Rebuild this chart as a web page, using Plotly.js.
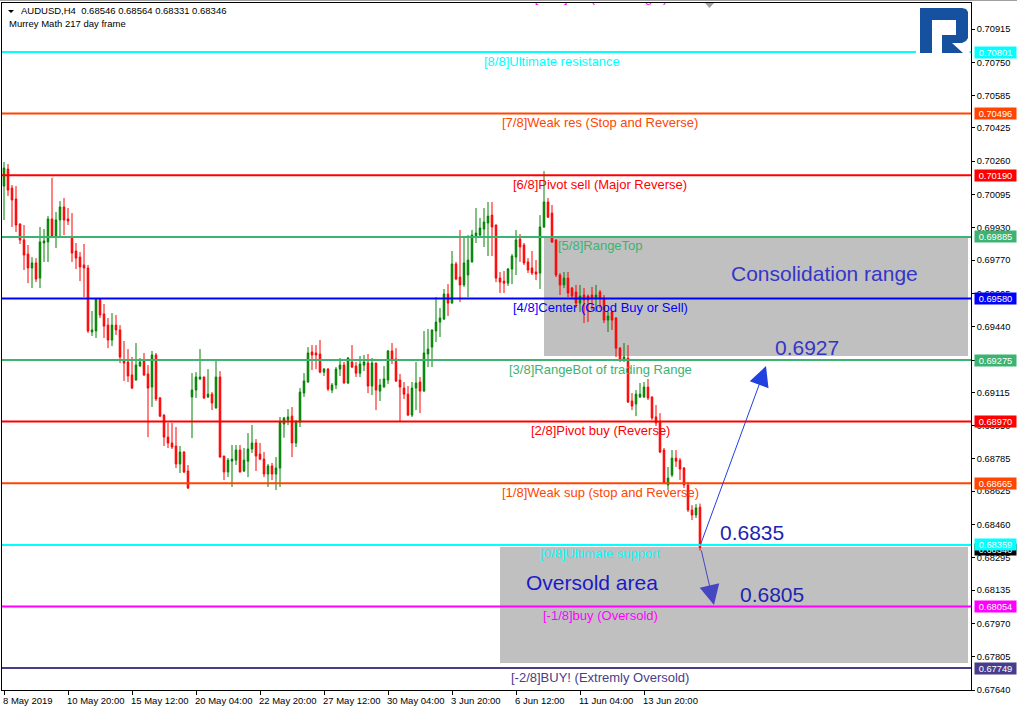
<!DOCTYPE html>
<html>
<head>
<meta charset="utf-8">
<script src="https://cdn.plot.ly/plotly-3.0.1.min.js"></script>
<style>
  html, body { margin: 0; padding: 0; background: #ffffff; }
  #chart { width: 1017px; height: 711px; }
</style>
</head>
<body>
<div id="chart"></div>
<script>
// ---------------- DATA (AUDUSD, H4) ----------------
const symbolHeader = "AUDUSD,H4  0.68546 0.68564 0.68331 0.68346";
const indicatorName = "Murrey Math 217 day frame";

const open = [
0.70137,0.70221,0.70127,0.70073,0.69949,0.69870,0.69800,0.69731,0.69756,0.69681,
0.69855,0.69860,0.69974,0.69889,0.69969,0.70033,0.69974,0.69879,0.69815,0.69785,
0.69746,0.69731,0.69414,0.69419,0.69577,0.69503,0.69448,0.69374,0.69448,0.69424,
0.69270,0.69265,0.69201,0.69176,0.69245,0.69270,0.69206,0.69141,0.69300,0.69087,
0.69002,0.68893,0.68864,0.68849,0.68760,0.68819,0.68725,0.69092,0.69126,0.69181,
0.69191,0.69092,0.69106,0.69037,0.69191,0.68799,0.68720,0.68774,0.68779,0.68829,
0.68725,0.68774,0.68834,0.68864,0.68809,0.68784,0.68710,0.68750,0.68710,0.68740,
0.68958,0.68978,0.68997,0.68864,0.68968,0.69111,0.69166,0.69315,0.69310,0.69305,
0.69215,0.69230,0.69126,0.69151,0.69230,0.69250,0.69161,0.69265,0.69245,0.69210,
0.69250,0.69260,0.69146,0.69260,0.69121,0.69141,0.69176,0.69320,0.69280,0.69176,
0.69136,0.69106,0.69002,0.69136,0.69166,0.69121,0.69305,0.69339,0.69419,0.69463,
0.69478,0.69602,0.69557,0.69751,0.69686,0.69647,0.69696,0.69761,0.69884,0.69894,
0.69924,0.69954,0.69993,0.69944,0.69681,0.69666,0.69656,0.69726,0.69785,0.69874,
0.69845,0.69761,0.69731,0.69711,0.69706,0.69934,0.70058,0.70003,0.69870,0.69696,
0.69647,0.69681,0.69632,0.69612,0.69557,0.69597,0.69592,0.69597,0.69582,0.69612,
0.69582,0.69473,0.69513,0.69483,0.69334,0.69275,0.69285,0.69072,0.69057,0.69092,
0.69092,0.69141,0.69092,0.68993,0.68968,0.68829,0.68656,0.68705,0.68789,0.68779,
0.68740,0.68656,0.68532,0.68507,0.68546];

const high = [
0.70256,0.70246,0.70142,0.70137,0.69952,0.69944,0.69845,0.69785,0.69780,0.69934,
0.69924,0.69988,0.70177,0.70008,0.70063,0.70078,0.70028,0.70003,0.69855,0.69810,
0.69850,0.69746,0.69518,0.69580,0.69580,0.69552,0.69483,0.69508,0.69498,0.69448,
0.69369,0.69329,0.69290,0.69359,0.69285,0.69310,0.69250,0.69320,0.69310,0.69092,
0.69007,0.68963,0.68963,0.68943,0.68849,0.68824,0.68755,0.69210,0.69215,0.69329,
0.69193,0.69230,0.69116,0.69280,0.69220,0.68801,0.68789,0.68854,0.68854,0.68854,
0.68839,0.68913,0.68953,0.68883,0.68864,0.68819,0.68760,0.68765,0.68794,0.68993,
0.68993,0.69032,0.69042,0.68978,0.69136,0.69210,0.69339,0.69349,0.69349,0.69374,
0.69235,0.69235,0.69161,0.69240,0.69285,0.69265,0.69290,0.69349,0.69265,0.69295,
0.69300,0.69305,0.69285,0.69262,0.69181,0.69245,0.69325,0.69359,0.69334,0.69206,
0.69166,0.69146,0.69166,0.69265,0.69191,0.69419,0.69429,0.69426,0.69587,0.69533,
0.69627,0.69651,0.69815,0.69761,0.69919,0.69884,0.69894,0.69919,0.70028,0.69979,
0.70028,0.70058,0.70058,0.69946,0.69711,0.69716,0.69731,0.69800,0.69919,0.69899,
0.69855,0.69780,0.69815,0.69770,0.69993,0.70211,0.70078,0.70043,0.69872,0.69706,
0.69711,0.69711,0.69637,0.69647,0.69647,0.69632,0.69600,0.69637,0.69647,0.69622,
0.69597,0.69513,0.69515,0.69488,0.69339,0.69359,0.69349,0.69111,0.69126,0.69161,
0.69166,0.69181,0.69094,0.69052,0.69012,0.68839,0.68745,0.68829,0.68829,0.68789,
0.68745,0.68670,0.68556,0.68561,0.68564];

const low = [
0.69969,0.70088,0.69934,0.69909,0.69850,0.69721,0.69656,0.69632,0.69661,0.69632,
0.69761,0.69761,0.69879,0.69830,0.69884,0.69894,0.69944,0.69761,0.69726,0.69666,
0.69587,0.69409,0.69394,0.69384,0.69483,0.69384,0.69334,0.69344,0.69399,0.69260,
0.69171,0.69166,0.69131,0.69173,0.69243,0.69196,0.68893,0.69042,0.69072,0.68993,
0.68849,0.68839,0.68834,0.68740,0.68715,0.68715,0.68636,0.68888,0.69087,0.69176,
0.69082,0.69087,0.69027,0.69035,0.68792,0.68680,0.68695,0.68646,0.68755,0.68718,
0.68720,0.68695,0.68814,0.68725,0.68779,0.68695,0.68646,0.68680,0.68631,0.68646,
0.68890,0.68953,0.68794,0.68844,0.68943,0.69092,0.69163,0.69225,0.69230,0.69210,
0.69196,0.69121,0.69111,0.69131,0.69196,0.69158,0.69156,0.69235,0.69191,0.69191,
0.69220,0.69111,0.69101,0.69027,0.69072,0.69139,0.69156,0.69255,0.69166,0.68968,
0.69082,0.68997,0.68993,0.69027,0.69012,0.69118,0.69240,0.69240,0.69364,0.69389,
0.69473,0.69493,0.69555,0.69671,0.69562,0.69637,0.69587,0.69758,0.69855,0.69884,
0.69835,0.69790,0.69790,0.69661,0.69607,0.69607,0.69642,0.69651,0.69696,0.69761,
0.69746,0.69706,0.69696,0.69671,0.69627,0.69929,0.69979,0.69855,0.69686,0.69597,
0.69632,0.69587,0.69582,0.69533,0.69513,0.69458,0.69463,0.69523,0.69513,0.69533,
0.69458,0.69414,0.69424,0.69290,0.69265,0.69265,0.69062,0.69027,0.68997,0.69087,
0.69087,0.69077,0.68978,0.68948,0.68814,0.68660,0.68631,0.68695,0.68745,0.68680,
0.68641,0.68522,0.68482,0.68492,0.68331];

const close = [
0.70226,0.70117,0.70068,0.69944,0.69870,0.69795,0.69731,0.69756,0.69676,0.69860,
0.69865,0.69974,0.69889,0.69969,0.70033,0.69969,0.69964,0.69805,0.69780,0.69736,
0.69731,0.69419,0.69424,0.69577,0.69498,0.69443,0.69374,0.69448,0.69424,0.69290,
0.69260,0.69196,0.69136,0.69250,0.69265,0.69201,0.69136,0.69300,0.69082,0.68997,
0.68893,0.68864,0.68844,0.68760,0.68819,0.68720,0.68641,0.69126,0.69191,0.69191,
0.69087,0.69106,0.69062,0.69191,0.68794,0.68720,0.68779,0.68784,0.68829,0.68720,
0.68779,0.68834,0.68864,0.68799,0.68784,0.68710,0.68750,0.68710,0.68740,0.68968,
0.68988,0.68993,0.68864,0.68968,0.69116,0.69171,0.69310,0.69300,0.69300,0.69215,
0.69230,0.69131,0.69151,0.69230,0.69250,0.69161,0.69285,0.69240,0.69210,0.69255,
0.69265,0.69146,0.69260,0.69126,0.69151,0.69181,0.69320,0.69275,0.69171,0.69141,
0.69106,0.69002,0.69136,0.69161,0.69121,0.69310,0.69329,0.69424,0.69463,0.69483,
0.69602,0.69557,0.69751,0.69676,0.69647,0.69756,0.69770,0.69894,0.69904,0.69929,
0.69959,0.69988,0.69934,0.69681,0.69661,0.69656,0.69726,0.69790,0.69870,0.69835,
0.69756,0.69721,0.69706,0.69701,0.69934,0.70058,0.69983,0.69860,0.69696,0.69647,
0.69681,0.69607,0.69592,0.69557,0.69592,0.69572,0.69572,0.69582,0.69597,0.69582,
0.69473,0.69493,0.69473,0.69334,0.69275,0.69290,0.69067,0.69047,0.69106,0.69106,
0.69141,0.69087,0.68988,0.68963,0.68819,0.68665,0.68690,0.68789,0.68774,0.68735,
0.68656,0.68532,0.68507,0.68542,0.68346];

// Bottom axis labels (every 16 bars)
const timeTickIndex = [0,16,32,48,64,80,96,112,128,144,160];
const timeTickLabels = ["8 May 2019","10 May 20:00","15 May 12:00","20 May 04:00","22 May 20:00",
  "27 May 12:00","30 May 04:00","3 Jun 20:00","6 Jun 12:00","11 Jun 04:00","13 Jun 20:00"];

// Right price axis ticks
const priceTicks = [0.70915,0.70750,0.70585,0.70425,0.70260,0.70095,0.69930,0.69770,0.69605,0.69440,
  0.69275,0.69115,0.68950,0.68785,0.68625,0.68460,0.68295,0.68135,0.67970,0.67805,0.67640];

// Murrey Math levels
const levelValues = [0.70801,0.70496,0.70190,0.69885,0.69580,0.69275,0.68970,0.68665,0.68359,0.68054,0.67749];
const levelNames = ["[8/8]Ultimate resistance","[7/8]Weak res (Stop and Reverse)","[6/8]Pivot sell (Major Reverse)",
  "[5/8]RangeTop","[4/8]Center (Good Buy or Sell)","[3/8]RangeBot of trading Range","[2/8]Pivot buy (Reverse)",
  "[1/8]Weak sup (stop and Reverse)","[0/8]Ultimate support","[-1/8]buy (Oversold)","[-2/8]BUY! (Extremly Oversold)"];
const levelAboveName = "[+1/8]sell (Overbought)";
const lastBid = 0.68346;

// Analyst annotations
const consolidationTarget = "0.6927";
const currentLevelText = "0.6835";
const oversoldTarget = "0.6805";

// ---------------- STYLE / GEOMETRY ----------------
const levelColors = ["#00FFFF","#FF4500","#FF0000","#3CB371","#0000FF","#3CB371","#FF0000","#FF4500","#00FFFF","#FF00FF","#483D8B"];
const FONT = "Liberation Sans, Arial, sans-serif";
const W = 1017, H = 711;
const M = {l: 2, r: 46, t: 3, b: 21};
const PW = W - M.l - M.r, PH = H - M.t - M.b;
const xRange = [-0.5, -0.5 + PW / 4];      // 4 px per bar
const yRange = [0.67640, 0.71044];

const dx = px => xRange[0] + (px - M.l) / PW * (xRange[1] - xRange[0]);
const dy = py => yRange[1] - (py - M.t) / PH * (yRange[1] - yRange[0]);
const pxX = px => (px - M.l) / PW;
const pxY = py => (H - M.b - py) / PH;
const pathFromPx = (pts, closeIt) => pts.map((p, i) => (i ? "L" : "M") + pxX(p[0]).toFixed(5) + "," + pxY(p[1]).toFixed(5)).join(" ") + (closeIt ? " Z" : "");

const xIdx = open.map((_, i) => i);

const trace = {
  type: "candlestick",
  x: xIdx, open: open, high: high, low: low, close: close,
  increasing: {line: {color: "#008000", width: 1}, fillcolor: "#008000"},
  decreasing: {line: {color: "#FF0000", width: 1}, fillcolor: "#FF0000"},
  whiskerwidth: 0,
  hoverinfo: "skip",
  showlegend: false
};

// label of the +1/8 level that sits above the visible range (clipped by the plot area)
const aboveLabel = {
  type: "scatter", mode: "text",
  x: [dx(601)], y: [dy(-1)],
  text: [levelAboveName], textposition: "middle center",
  textfont: {family: FONT, size: 13, color: "#FF00FF"},
  cliponaxis: true, hoverinfo: "skip", showlegend: false
};

const shapes = [];
// gray zones (behind candles)
shapes.push({type: "rect", layer: "below", xref: "x", yref: "y",
  x0: dx(544), x1: dx(968), y0: dy(356), y1: dy(237), fillcolor: "#C0C0C0", line: {width: 0}});
shapes.push({type: "rect", layer: "below", xref: "x", yref: "y",
  x0: dx(500), x1: dx(968), y0: dy(663), y1: dy(547), fillcolor: "#C0C0C0", line: {width: 0}});
// level lines
levelValues.forEach((v, i) => {
  shapes.push({type: "line", layer: "above", xref: "paper", yref: "y", x0: 0, x1: 1, y0: v, y1: v,
    line: {color: levelColors[i], width: 2}});
});
// logo backdrop + logo
shapes.push({type: "rect", layer: "above", xref: "paper", yref: "paper",
  x0: pxX(916), x1: pxX(969.5), y0: pxY(56), y1: pxY(4), fillcolor: "#FFFFFF", line: {width: 0}});
shapes.push({type: "path", layer: "above", xref: "paper", yref: "paper",
  path: pathFromPx([[920,8],[962,8],[966,9],[968,12],[968,38],[966,41],[962,43],[952,43],[963,53],[942,53],
    [942,35],[956,35],[956,20],[932,20],[932,53],[920,53]], true),
  fillcolor: "#16519F", line: {width: 0}});
// chart shift marker
shapes.push({type: "path", layer: "above", xref: "paper", yref: "paper",
  path: pathFromPx([[705,3],[714,3],[709.5,8]], true), fillcolor: "#A0A0A0", line: {width: 0}});
// header triangle
shapes.push({type: "path", layer: "above", xref: "paper", yref: "paper",
  path: pathFromPx([[8,10],[14,10],[11,13]], true), fillcolor: "#000000", line: {width: 0}});
// window top edge
shapes.push({type: "line", layer: "above", xref: "paper", yref: "paper",
  x0: pxX(0), x1: pxX(1017), y0: pxY(0.5), y1: pxY(0.5), line: {color: "#A0A0A0", width: 1}});

const annotations = [];
// level labels
levelValues.forEach((v, i) => {
  annotations.push({xref: "x", yref: "y", x: dx(i === 0 ? 552 : 600), y: v, yshift: -9,
    text: levelNames[i], showarrow: false, xanchor: "center", yanchor: "middle",
    font: {family: FONT, size: 13, color: levelColors[i]}});
});
// current bid box (drawn first, partly hidden)
annotations.push({xref: "paper", yref: "y", x: 1, y: lastBid, xanchor: "left", yanchor: "middle", xshift: 3, yshift: -2,
  text: lastBid.toFixed(5), showarrow: false, bgcolor: "#000000", width: 41, height: 11, borderpad: 0,
  font: {family: FONT, size: 9.3, color: "#FFFFFF"}});
// right-side level value boxes
levelValues.forEach((v, i) => {
  annotations.push({xref: "paper", yref: "y", x: 1, y: v, xanchor: "left", yanchor: "middle", xshift: 3,
    text: v.toFixed(5), showarrow: false, bgcolor: levelColors[i], width: 41, height: 11, borderpad: 0,
    font: {family: FONT, size: 9.3, color: "#FFFFFF"}});
});
// header
annotations.push({xref: "paper", yref: "paper", x: pxX(19), y: pxY(11), xanchor: "left", yanchor: "middle",
  text: symbolHeader.replace("  ", "&nbsp; "), showarrow: false, font: {family: FONT, size: 9.5, color: "#000000"}});
annotations.push({xref: "paper", yref: "paper", x: pxX(7), y: pxY(24), xanchor: "left", yanchor: "middle",
  text: indicatorName, showarrow: false, font: {family: FONT, size: 9.5, color: "#000000"}});
// big comments
annotations.push({xref: "x", yref: "y", x: dx(824), y: dy(273), text: "Consolidation range", showarrow: false,
  font: {family: FONT, size: 21, color: "#3535C8"}});
annotations.push({xref: "x", yref: "y", x: dx(807), y: dy(347), text: consolidationTarget, showarrow: false,
  font: {family: FONT, size: 21, color: "#3535C8"}});
annotations.push({xref: "x", yref: "y", x: dx(752), y: dy(532), text: currentLevelText, showarrow: false,
  font: {family: FONT, size: 21, color: "#1E24B0"}});
annotations.push({xref: "x", yref: "y", x: dx(592), y: dy(582), text: "Oversold area", showarrow: false,
  font: {family: FONT, size: 21, color: "#1A1AC8"}});
annotations.push({xref: "x", yref: "y", x: dx(772), y: dy(594), text: oversoldTarget, showarrow: false,
  font: {family: FONT, size: 21, color: "#1E24B0"}});
// arrows
annotations.push({xref: "x", yref: "y", axref: "x", ayref: "y", x: dx(766), y: dy(366), ax: dx(700), ay: dy(546),
  text: "", showarrow: true, arrowhead: 2, arrowsize: 4, arrowwidth: 1, arrowcolor: "#2040E0", standoff: 0, startstandoff: 0});
annotations.push({xref: "x", yref: "y", axref: "x", ayref: "y", x: dx(714), y: dy(605), ax: dx(701), ay: dy(549),
  text: "", showarrow: true, arrowhead: 2, arrowsize: 4, arrowwidth: 1, arrowcolor: "#4646C0", standoff: 0, startstandoff: 0});

const layout = {
  width: W, height: H,
  margin: M,
  paper_bgcolor: "#FFFFFF", plot_bgcolor: "#FFFFFF",
  showlegend: false,
  boxgap: 0.45,
  dragmode: false,
  xaxis: {
    type: "linear", range: xRange, fixedrange: true,
    rangeslider: {visible: false},
    showgrid: false, zeroline: false,
    showline: true, linecolor: "#000000", linewidth: 1, mirror: true,
    ticks: "outside", ticklen: 4, tickcolor: "#000000",
    tickvals: timeTickIndex, ticktext: timeTickLabels,
    tickangle: 0,
    ticklabelposition: "outside right",
    ticklabelstandoff: 2,
    ticklabelshift: -2,
    tickfont: {family: FONT, size: 9.5, color: "#000000"}
  },
  yaxis: {
    type: "linear", range: yRange, fixedrange: true, side: "right",
    showgrid: false, zeroline: false,
    showline: true, linecolor: "#000000", linewidth: 1, mirror: true,
    ticks: "outside", ticklen: 3, tickcolor: "#000000",
    tickvals: priceTicks, ticktext: priceTicks.map(v => v.toFixed(5)),
    tickfont: {family: FONT, size: 9.3, color: "#000000"}
  },
  shapes: shapes,
  annotations: annotations
};

Plotly.newPlot("chart", [trace, aboveLabel], layout, {staticPlot: true, displayModeBar: false});
</script>
</body>
</html>
